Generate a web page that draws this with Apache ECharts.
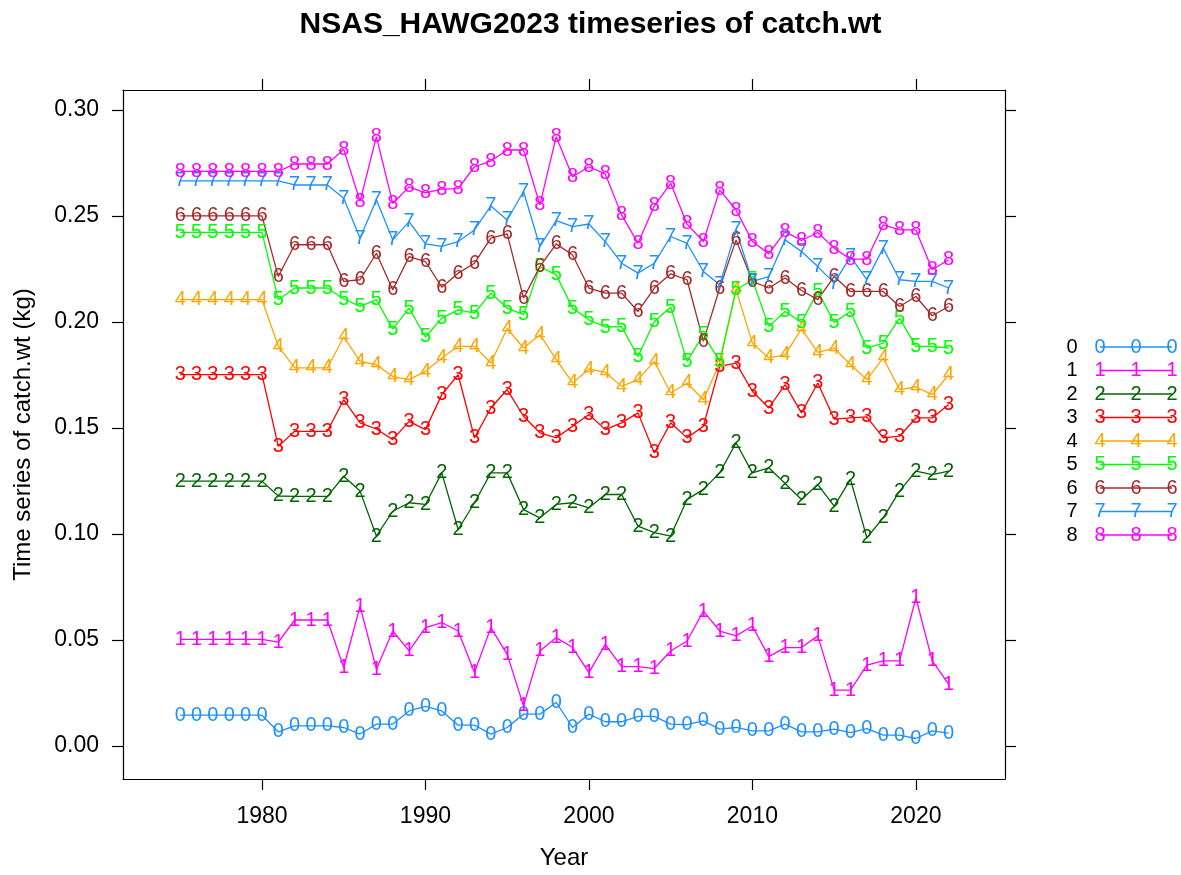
<!DOCTYPE html>
<html>
<head>
<meta charset="utf-8">
<title>NSAS_HAWG2023 timeseries of catch.wt</title>
<script src="https://cdn.jsdelivr.net/npm/echarts@6/dist/echarts.min.js"></script>
<style>
  html, body { margin: 0; padding: 0; background: #fff; }
  #chart { width: 1181px; height: 875px; }
</style>
</head>
<body>
<div id="chart"></div>
<script>
// Mean catch weight (kg) by age, 1975-2022
const years = [1975,1976,1977,1978,1979,1980,1981,1982,1983,1984,
  1985,1986,1987,1988,1989,1990,1991,1992,1993,1994,
  1995,1996,1997,1998,1999,2000,2001,2002,2003,2004,
  2005,2006,2007,2008,2009,2010,2011,2012,2013,2014,
  2015,2016,2017,2018,2019,2020,2021,2022];

const age0 = [0.0146,0.0146,0.0146,0.0146,0.0146,0.0146,0.0067,0.0096,0.0096,0.0096,
  0.0088,0.0057,0.0104,0.0104,0.0166,0.0187,0.0166,0.0099,0.0099,0.0057,
  0.0088,0.0151,0.0151,0.0206,0.0088,0.0151,0.0115,0.0115,0.0140,0.0140,
  0.0104,0.0101,0.0119,0.0080,0.0088,0.0072,0.0072,0.0104,0.0067,0.0067,
  0.0080,0.0064,0.0083,0.0052,0.0052,0.0036,0.0072,0.0061];
const age1 = [0.0504,0.0504,0.0504,0.0504,0.0504,0.0504,0.0491,0.0595,0.0595,0.0595,
  0.0371,0.0661,0.0363,0.0543,0.0449,0.0559,0.0583,0.0543,0.0347,0.0559,
  0.0433,0.0190,0.0449,0.0512,0.0465,0.0347,0.0480,0.0375,0.0375,0.0366,
  0.0449,0.0496,0.0637,0.0543,0.0520,0.0567,0.0422,0.0465,0.0465,0.0520,
  0.0264,0.0264,0.0382,0.0402,0.0402,0.0700,0.0402,0.0292];
const age2 = [0.1250,0.1250,0.1250,0.1250,0.1250,0.1250,0.1180,0.1178,0.1178,0.1178,
  0.1273,0.1203,0.0991,0.1108,0.1148,0.1140,0.1289,0.1022,0.1148,0.1289,
  0.1289,0.1116,0.1077,0.1140,0.1148,0.1124,0.1187,0.1187,0.1038,0.1007,
  0.0991,0.1163,0.1211,0.1289,0.1431,0.1289,0.1313,0.1239,0.1163,0.1234,
  0.1132,0.1258,0.0983,0.1077,0.1203,0.1297,0.1281,0.1297];
const age3 = [0.1752,0.1752,0.1752,0.1752,0.1752,0.1752,0.1414,0.1485,0.1485,0.1485,
  0.1634,0.1525,0.1496,0.1446,0.1532,0.1493,0.1658,0.1752,0.1454,0.1595,
  0.1682,0.1556,0.1478,0.1454,0.1509,0.1564,0.1493,0.1525,0.1572,0.1383,
  0.1525,0.1454,0.1509,0.1791,0.1807,0.1674,0.1595,0.1705,0.1572,0.1713,
  0.1543,0.1548,0.1553,0.1454,0.1462,0.1548,0.1548,0.1611];
const age4 = [0.2106,0.2106,0.2106,0.2106,0.2106,0.2106,0.1886,0.1784,0.1784,0.1784,
  0.1930,0.1815,0.1799,0.1744,0.1729,0.1768,0.1831,0.1886,0.1886,0.1807,
  0.1970,0.1878,0.1941,0.1823,0.1713,0.1779,0.1763,0.1697,0.1729,0.1815,
  0.1666,0.1713,0.1634,0.1807,0.2153,0.1901,0.1831,0.1846,0.1968,0.1857,
  0.1878,0.1799,0.1729,0.1831,0.1682,0.1694,0.1658,0.1752];
const age5 = [0.2423,0.2423,0.2423,0.2423,0.2423,0.2423,0.2106,0.2161,0.2161,0.2161,
  0.2109,0.2074,0.2106,0.1967,0.2066,0.1930,0.2019,0.2058,0.2043,0.2137,
  0.2066,0.2035,0.2262,0.2223,0.2066,0.2011,0.1977,0.1979,0.1838,0.2003,
  0.2071,0.1815,0.1941,0.1815,0.2153,0.2200,0.1980,0.2050,0.1999,0.2145,
  0.1999,0.2050,0.1878,0.1901,0.2019,0.1886,0.1885,0.1878];
const age6 = [0.2501,0.2501,0.2501,0.2501,0.2501,0.2501,0.2215,0.2365,0.2365,0.2365,
  0.2192,0.2200,0.2325,0.2153,0.2309,0.2286,0.2165,0.2231,0.2278,0.2396,
  0.2416,0.2113,0.2262,0.2369,0.2317,0.2161,0.2137,0.2137,0.2050,0.2161,
  0.2228,0.2200,0.1909,0.2161,0.2388,0.2192,0.2161,0.2208,0.2149,0.2106,
  0.2215,0.2145,0.2145,0.2145,0.2074,0.2121,0.2030,0.2074];
const age7 = [0.2666,0.2666,0.2666,0.2666,0.2666,0.2666,0.2666,0.2647,0.2647,0.2647,
  0.2584,0.2396,0.2577,0.2388,0.2474,0.2369,0.2357,0.2380,0.2435,0.2548,
  0.2482,0.2616,0.2357,0.2479,0.2451,0.2463,0.2380,0.2278,0.2231,0.2278,
  0.2404,0.2372,0.2239,0.2176,0.2435,0.2192,0.2215,0.2388,0.2333,0.2262,
  0.2184,0.2309,0.2200,0.2349,0.2200,0.2192,0.2192,0.2161];
const age8 = [0.2711,0.2711,0.2711,0.2711,0.2711,0.2711,0.2711,0.2746,0.2746,0.2746,
  0.2815,0.2570,0.2875,0.2560,0.2638,0.2610,0.2627,0.2630,0.2733,0.2760,
  0.2812,0.2812,0.2553,0.2875,0.2686,0.2733,0.2699,0.2506,0.2372,0.2548,
  0.2655,0.2463,0.2380,0.2624,0.2529,0.2380,0.2322,0.2427,0.2385,0.2423,
  0.2349,0.2297,0.2297,0.2459,0.2435,0.2435,0.2247,0.2294];

const ages = ['0','1','2','3','4','5','6','7','8'];
const ageValues = [age0, age1, age2, age3, age4, age5, age6, age7, age8];
const ageColors = ['#1E90FF','#FF00FF','#006400','#FF0000','#FFA500','#00FF00','#A52A2A','#1E90FF','#FF00FF'];

const xTicks = [1980, 1990, 2000, 2010, 2020];
const yTicks = [0, 0.05, 0.10, 0.15, 0.20, 0.25, 0.30];

const FONT = '"Liberation Sans", Arial, sans-serif';
const MARK_SIZE = 20;

const chart = echarts.init(document.getElementById('chart'), null, { renderer: 'canvas' });

const series = ages.map((age, i) => ({
  type: 'line',
  name: age,
  data: years.map((yr, j) => [yr, ageValues[i][j]]),
  symbol: 'circle',
  symbolSize: 1,
  showAllSymbol: true,
  itemStyle: { color: 'rgba(0,0,0,0)' },
  lineStyle: { color: ageColors[i], width: 1.3 },
  label: {
    show: true,
    position: 'inside',
    formatter: age,
    color: ageColors[i],
    fontSize: MARK_SIZE,
    fontFamily: FONT
  },
  emphasis: { disabled: true },
  z: 2
}));

// Key on the right: label, line and three digit markers per age
const keyGraphics = [];
const keyTop = 347, keyStep = 23.5;
ages.forEach((age, i) => {
  const y = keyTop + i * keyStep;
  keyGraphics.push({
    type: 'text', x: 1072, y: y,
    style: { text: age, fill: '#000', font: '20px ' + FONT, align: 'center', verticalAlign: 'middle' }
  });
  keyGraphics.push({
    type: 'line',
    shape: { x1: 1100, y1: y, x2: 1172, y2: y },
    style: { stroke: ageColors[i], lineWidth: 1.3 }
  });
  [1100, 1136, 1172].forEach(x => {
    keyGraphics.push({
      type: 'text', x: x, y: y,
      style: { text: age, fill: ageColors[i], font: MARK_SIZE + 'px ' + FONT, align: 'center', verticalAlign: 'middle' }
    });
  });
});

const axisLine = { show: true, onZero: false, lineStyle: { color: '#000', width: 1.2 } };
const tick = (vals) => ({ show: true, customValues: vals, length: 11, lineStyle: { color: '#000', width: 1.2 } });

chart.setOption({
  animation: false,
  backgroundColor: '#fff',
  title: {
    text: 'NSAS_HAWG2023 timeseries of catch.wt',
    left: 'center',
    top: 5,
    textStyle: { fontSize: 30, fontWeight: 'bold', color: '#000', fontFamily: FONT }
  },
  grid: { left: 123, right: 176, top: 90, bottom: 95, containLabel: false },
  xAxis: [
    {
      type: 'value', position: 'bottom',
      min: 1971.5, max: 2025.45,
      axisLine: axisLine,
      axisTick: tick(xTicks),
      axisLabel: { customValues: xTicks, color: '#000', fontSize: 23, fontFamily: FONT, margin: 26,
        formatter: v => String(v) },
      splitLine: { show: false },
      name: 'Year', nameLocation: 'middle', nameGap: 67,
      nameTextStyle: { fontSize: 24, color: '#000', fontFamily: FONT }
    },
    {
      type: 'value', position: 'top',
      min: 1971.5, max: 2025.45,
      axisLine: axisLine,
      axisTick: tick(xTicks),
      axisLabel: { show: false },
      splitLine: { show: false }
    }
  ],
  yAxis: [
    {
      type: 'value', position: 'left',
      min: -0.0155, max: 0.3095,
      axisLine: axisLine,
      axisTick: tick(yTicks),
      axisLabel: {
        customValues: yTicks, color: '#000', fontSize: 23, fontFamily: FONT, margin: 24,
        formatter: v => v.toFixed(2)
      },
      splitLine: { show: false },
      name: 'Time series of catch.wt (kg)', nameLocation: 'middle', nameGap: 88,
      nameTextStyle: { fontSize: 24, color: '#000', fontFamily: FONT }
    },
    {
      type: 'value', position: 'right',
      min: -0.0155, max: 0.3095,
      axisLine: axisLine,
      axisTick: tick(yTicks),
      axisLabel: { show: false },
      splitLine: { show: false }
    }
  ],
  series: series,
  graphic: keyGraphics
});
</script>
</body>
</html>
